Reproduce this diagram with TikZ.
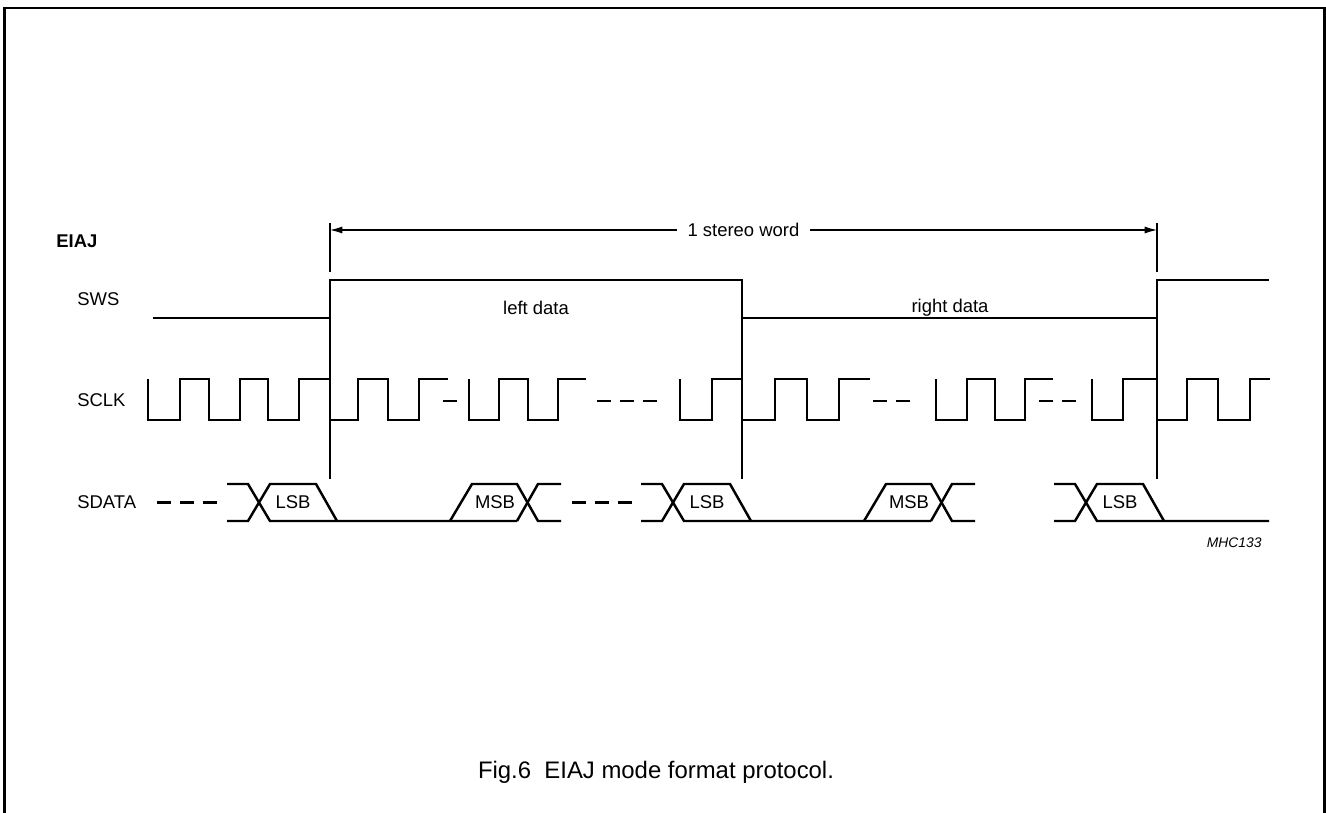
\documentclass[tikz,border=0pt]{standalone}
\usepackage{fontspec}
\setmainfont{Liberation Sans}
\usetikzlibrary{arrows.meta}

\begin{document}
\begin{tikzpicture}[
    x=0.02cm, y=-0.02cm,
    lbl/.style={font=\fontsize{10.5}{12}\selectfont, inner sep=0pt},
    tag/.style={lbl, anchor=west},
    sig/.style={line width=1.4pt},
    guide/.style={line width=0.6pt},
    gap/.style={line width=1.4pt, dash pattern=on 8pt off 5pt},
    dim/.style={line width=0.6pt, {Latex[length=7pt,width=4pt]}-{Latex[length=7pt,width=4pt]}}
]
\useasboundingbox (0,0) rectangle (1326,812);
\draw[line width=1.3pt] (4.5,815) -- (4.5,8) -- (1324.5,8) -- (1324.5,815);

% signal names
\node[tag, font=\bfseries\fontsize{10.5}{12}\selectfont] (eiaj) at (56,241) {EIAJ};
\node[tag] (sws) at (77,299) {SWS};
\node[tag] (sclk) at (77,400) {SCLK};
\node[tag] (sdata) at (77,502) {SDATA};

% stereo word span
\coordinate (wl) at (330,230);
\coordinate (wr) at (1157,230);
\draw[guide] (330,223) -- (330,272);
\draw[guide] (1157,223) -- (1157,272);
\draw[dim] (wl) -- (wr) node[midway, lbl, fill=white, inner xsep=6pt, inner ysep=2pt] (word) {1 stereo word};
\foreach \x in {330,742,1157}
    \draw[guide] (\x,280) -- (\x,479);

% SWS
\draw[sig] (153,318) -| (330,280) -| (742,318) -| (1157,280) -- (1269,280);
\node[lbl] (left) at (536,308) {left data};
\node[lbl] (right) at (950,308) {right data};

% SCLK
\draw[sig] (148,379) foreach \r/\n in {180/209,240/268,299/330,358/388,419/448} { |- (\r,420) |- (\n,379) };
\draw[sig] (469,379) foreach \r/\n in {499/528,558/586} { |- (\r,420) |- (\n,379) };
\draw[sig] (680,379) foreach \r/\n in {712/742,775/807,839/870} { |- (\r,420) |- (\n,379) };
\draw[sig] (936,379) foreach \r/\n in {967/995,1025/1053} { |- (\r,420) |- (\n,379) };
\draw[sig] (1092,379) foreach \r/\n in {1123/1157,1187/1218,1250/1270} { |- (\r,420) |- (\n,379) };
\draw[gap] (443,401) -- (457,401);
\draw[gap] (597,401) -- (659,401);
\draw[gap] (873,401) -- (910,401);
\draw[gap] (1039,401) -- (1077,401);

% SDATA
\draw[gap] (157,502.5) -- (217,502.5);
\draw[gap] (572,502.5) -- (632,502.5);
\foreach \o/\e [count=\i] in {0/517,414/517,827/442} {
    \begin{scope}[xshift=\o*0.02cm]
    \draw[sig] (227,484) -- (248,484) -- (270,521) -- (\e,521);
    \draw[sig] (227,521) -- (248,521) -- (270,484) -- (316,484) -- (337,521);
    \node[lbl] (lsb\i) at (293,502) {LSB};
    \end{scope}
}
\foreach \o [count=\i] in {0,414} {
    \begin{scope}[xshift=\o*0.02cm]
    \draw[sig] (450,521) -- (472,484) -- (517,484) -- (538,521) -- (561,521);
    \draw[sig] (517,521) -- (538,484) -- (561,484);
    \node[lbl] (msb\i) at (495,502) {MSB};
    \end{scope}
}

\node[font=\itshape\fontsize{7.9}{9}\selectfont, anchor=east, inner sep=0pt] (code) at (1262,543) {MHC133};
\node[font=\fontsize{13.6}{16}\selectfont, inner sep=0pt] (cap) at (656,772) {Fig.6~~EIAJ mode format protocol.};
\end{tikzpicture}
\end{document}
